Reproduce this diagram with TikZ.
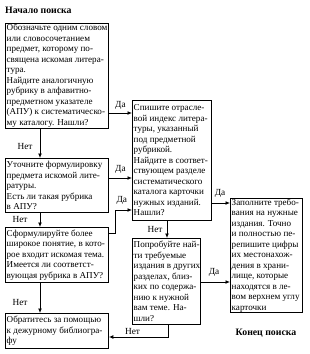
\documentclass[tikz,border=0pt]{standalone}
\usepackage{fontspec}
\setmainfont{Liberation Serif}
\usetikzlibrary{arrows.meta,calc}
\begin{document}
\begin{tikzpicture}[x=1pt,y=-1pt,
  box/.style={draw, line width=0.9pt, rectangle, anchor=north west, inner sep=0pt},
  txt/.style={anchor=west, inner xsep=1.5pt, inner ysep=0pt, align=left,
    font=\fontsize{9.1}{10.5}\selectfont},
  lbl/.style={font=\fontsize{9.3}{10}\selectfont, inner sep=0pt},
  arr/.style={line width=0.9pt, -{Latex[length=4.5pt,width=4pt]}},
  ttl/.style={font=\bfseries\fontsize{9.8}{11}\selectfont, inner sep=0pt}]
\useasboundingbox (0,0) rectangle (309,354);

\node[ttl, anchor=west] (start) at (5,10) {Начало поиска};
\node[ttl] (end) at (266,333) {Конец поиска};

\node[box, minimum width=103pt, minimum height=105pt] (b1) at (5,23) {};
\node[box, minimum width=103pt, minimum height=54pt] (b2) at (5,158) {};
\node[box, minimum width=103pt, minimum height=55pt] (b3) at (5,227) {};
\node[box, minimum width=103pt, minimum height=35pt] (b4) at (5,313) {};
\node[box, minimum width=79pt, minimum height=120pt] (b5) at (132,100) {};
\node[box, minimum width=68pt, minimum height=86pt] (b6) at (132,238) {};
\node[box, minimum width=72pt, minimum height=114pt] (b7) at (230,198) {};

\node[txt] (t1) at (b1.west) {Обозначьте одним словом\\или словосочетанием\\предмет, которому по-\\священа искомая литера-\\тура.\\Найдите аналогичную\\рубрику в алфавитно-\\предметном указателе\\(АПУ) к систематическо-\\му каталогу. Нашли?};
\node[txt] (t2) at (b2.west) {Уточните формулировку\\предмета искомой лите-\\ратуры.\\Есть ли такая рубрика\\в АПУ?};
\node[txt] (t3) at (b3.west) {Сформулируйте более\\широкое понятие, в кото-\\рое входит искомая тема.\\Имеется ли соответст-\\вующая рубрика в АПУ?};
\node[txt] (t4) at (b4.west) {Обратитесь за помощью\\к дежурному библиогра-\\фу};
\node[txt] (t5) at (b5.west) {Спишите отрасле-\\вой индекс литера-\\туры, указанный\\под предметной\\рубрикой.\\Найдите в соответ-\\ствующем разделе\\систематического\\каталога карточки\\нужных изданий.\\Нашли?};
\node[txt] (t6) at (b6.west) {Попробуйте най-\\ти требуемые\\издания в других\\разделах, близ-\\ких по содержа-\\нию к нужной\\вам теме. На-\\шли?};
\node[txt] (t7) at (b7.west) {Заполните требо-\\вания на нужные\\издания. Точно\\и полностью пе-\\репишите цифры\\их местонахож-\\дения в храни-\\лище, которые\\находятся в ле-\\вом верхнем углу\\карточки};

% No arrows
\draw[arr] (b1.south -| 40,0) -- (b2.north -| 40,0) node[lbl, pos=0.6, left=7pt] {Нет};
\draw[arr] (b2.south -| 40,0) -- (b3.north -| 40,0) node[lbl, pos=0.45, left=12pt] {Нет};
\draw[arr] (b3.south -| 40,0) -- (b4.north -| 40,0) node[lbl, pos=0.65, left=12pt] {Нет};
\draw[arr] (b5.south -| 167,0) -- (b6.north -| 167,0) node[lbl, pos=0.5, left=4pt] {Нет};
\coordinate (c6) at (168,337);
\draw[arr] (b6.south -| c6) -- (c6) -- (b4.east |- c6) node[lbl, pos=0.6, above=2pt] {Нет};

% Yes arrows
\draw[arr] (b1.east |- 0,113) -- (b5.west |- 0,113) node[lbl, midway, above=3pt] {Да};
\draw[arr] (b2.east |- 0,178) -- (b5.west |- 0,178) node[lbl, midway, above=4pt] {Да};
\coordinate (c3) at (115,233);
\draw[arr] (b3.east |- c3) -- (c3) -- (115,210) -- (b5.west |- 0,210) node[lbl, pos=0.4, above=5pt] {Да};
\draw[arr] (b5.east |- 0,203) -- (b7.west |- 0,203) node[lbl, pos=0.45, above=5pt] {Да};
\draw[arr] (b6.east |- 0,282) -- (b7.west |- 0,282) node[lbl, pos=0.45, above=5pt] {Да};
\end{tikzpicture}
\end{document}
